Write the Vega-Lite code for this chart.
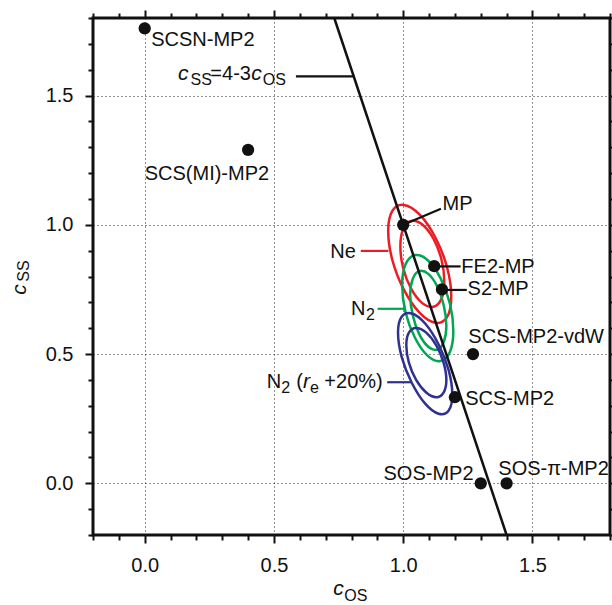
{
  "$schema": "https://vega.github.io/schema/vega-lite/v6.json",
  "width": 517,
  "height": 517,
  "autosize": {"type": "none"},
  "padding": {"left": 93, "top": 18, "right": 2, "bottom": 70},
  "background": "white",
  "config": {
    "font": "Liberation Sans",
    "view": {"stroke": "#111111", "strokeWidth": 3},
    "text": {"font": "Liberation Sans", "color": "#111111"}
  },
  "datasets": {
    "ell": [
      {"s": "Ne", "r": "o", "k": 0, "x": 1.186, "y": 0.722},
      {"s": "Ne", "r": "o", "k": 1, "x": 1.170, "y": 0.644},
      {"s": "Ne", "r": "o", "k": 2, "x": 1.125, "y": 0.621},
      {"s": "Ne", "r": "o", "k": 3, "x": 1.064, "y": 0.659},
      {"s": "Ne", "r": "o", "k": 4, "x": 1.003, "y": 0.748},
      {"s": "Ne", "r": "o", "k": 5, "x": 0.958, "y": 0.864},
      {"s": "Ne", "r": "o", "k": 6, "x": 0.942, "y": 0.976},
      {"s": "Ne", "r": "o", "k": 7, "x": 0.958, "y": 1.054},
      {"s": "Ne", "r": "o", "k": 8, "x": 1.003, "y": 1.077},
      {"s": "Ne", "r": "o", "k": 9, "x": 1.064, "y": 1.039},
      {"s": "Ne", "r": "o", "k": 10, "x": 1.125, "y": 0.950},
      {"s": "Ne", "r": "o", "k": 11, "x": 1.170, "y": 0.834},
      {"s": "Ne", "r": "i", "k": 0, "x": 1.159, "y": 0.781},
      {"s": "Ne", "r": "i", "k": 1, "x": 1.148, "y": 0.714},
      {"s": "Ne", "r": "i", "k": 2, "x": 1.117, "y": 0.683},
      {"s": "Ne", "r": "i", "k": 3, "x": 1.074, "y": 0.697},
      {"s": "Ne", "r": "i", "k": 4, "x": 1.031, "y": 0.752},
      {"s": "Ne", "r": "i", "k": 5, "x": 1.000, "y": 0.832},
      {"s": "Ne", "r": "i", "k": 6, "x": 0.989, "y": 0.917},
      {"s": "Ne", "r": "i", "k": 7, "x": 1.000, "y": 0.984},
      {"s": "Ne", "r": "i", "k": 8, "x": 1.031, "y": 1.015},
      {"s": "Ne", "r": "i", "k": 9, "x": 1.074, "y": 1.001},
      {"s": "Ne", "r": "i", "k": 10, "x": 1.117, "y": 0.946},
      {"s": "Ne", "r": "i", "k": 11, "x": 1.148, "y": 0.866},
      {"s": "N2", "r": "o", "k": 0, "x": 1.194, "y": 0.589},
      {"s": "N2", "r": "o", "k": 1, "x": 1.181, "y": 0.509},
      {"s": "N2", "r": "o", "k": 2, "x": 1.144, "y": 0.473},
      {"s": "N2", "r": "o", "k": 3, "x": 1.095, "y": 0.493},
      {"s": "N2", "r": "o", "k": 4, "x": 1.046, "y": 0.562},
      {"s": "N2", "r": "o", "k": 5, "x": 1.009, "y": 0.662},
      {"s": "N2", "r": "o", "k": 6, "x": 0.996, "y": 0.767},
      {"s": "N2", "r": "o", "k": 7, "x": 1.009, "y": 0.847},
      {"s": "N2", "r": "o", "k": 8, "x": 1.046, "y": 0.883},
      {"s": "N2", "r": "o", "k": 9, "x": 1.095, "y": 0.863},
      {"s": "N2", "r": "o", "k": 10, "x": 1.144, "y": 0.794},
      {"s": "N2", "r": "o", "k": 11, "x": 1.181, "y": 0.694},
      {"s": "N2", "r": "i", "k": 0, "x": 1.167, "y": 0.609},
      {"s": "N2", "r": "i", "k": 1, "x": 1.157, "y": 0.547},
      {"s": "N2", "r": "i", "k": 2, "x": 1.132, "y": 0.517},
      {"s": "N2", "r": "i", "k": 3, "x": 1.097, "y": 0.528},
      {"s": "N2", "r": "i", "k": 4, "x": 1.062, "y": 0.577},
      {"s": "N2", "r": "i", "k": 5, "x": 1.037, "y": 0.650},
      {"s": "N2", "r": "i", "k": 6, "x": 1.027, "y": 0.729},
      {"s": "N2", "r": "i", "k": 7, "x": 1.037, "y": 0.791},
      {"s": "N2", "r": "i", "k": 8, "x": 1.062, "y": 0.821},
      {"s": "N2", "r": "i", "k": 9, "x": 1.097, "y": 0.810},
      {"s": "N2", "r": "i", "k": 10, "x": 1.132, "y": 0.761},
      {"s": "N2", "r": "i", "k": 11, "x": 1.157, "y": 0.688},
      {"s": "N2r", "r": "o", "k": 0, "x": 1.190, "y": 0.343},
      {"s": "N2r", "r": "o", "k": 1, "x": 1.176, "y": 0.282},
      {"s": "N2r", "r": "o", "k": 2, "x": 1.137, "y": 0.269},
      {"s": "N2r", "r": "o", "k": 3, "x": 1.085, "y": 0.308},
      {"s": "N2r", "r": "o", "k": 4, "x": 1.033, "y": 0.389},
      {"s": "N2r", "r": "o", "k": 5, "x": 0.994, "y": 0.489},
      {"s": "N2r", "r": "o", "k": 6, "x": 0.980, "y": 0.583},
      {"s": "N2r", "r": "o", "k": 7, "x": 0.994, "y": 0.644},
      {"s": "N2r", "r": "o", "k": 8, "x": 1.033, "y": 0.657},
      {"s": "N2r", "r": "o", "k": 9, "x": 1.085, "y": 0.618},
      {"s": "N2r", "r": "o", "k": 10, "x": 1.137, "y": 0.537},
      {"s": "N2r", "r": "o", "k": 11, "x": 1.176, "y": 0.437},
      {"s": "N2r", "r": "i", "k": 0, "x": 1.167, "y": 0.400},
      {"s": "N2r", "r": "i", "k": 1, "x": 1.156, "y": 0.351},
      {"s": "N2r", "r": "i", "k": 2, "x": 1.128, "y": 0.333},
      {"s": "N2r", "r": "i", "k": 3, "x": 1.089, "y": 0.351},
      {"s": "N2r", "r": "i", "k": 4, "x": 1.050, "y": 0.400},
      {"s": "N2r", "r": "i", "k": 5, "x": 1.022, "y": 0.467},
      {"s": "N2r", "r": "i", "k": 6, "x": 1.012, "y": 0.534},
      {"s": "N2r", "r": "i", "k": 7, "x": 1.022, "y": 0.583},
      {"s": "N2r", "r": "i", "k": 8, "x": 1.050, "y": 0.601},
      {"s": "N2r", "r": "i", "k": 9, "x": 1.089, "y": 0.583},
      {"s": "N2r", "r": "i", "k": 10, "x": 1.128, "y": 0.534},
      {"s": "N2r", "r": "i", "k": 11, "x": 1.156, "y": 0.467}
    ],
    "fit": [
      {"x": 0.7333, "y": 1.8},
      {"x": 1.4, "y": -0.2}
    ],
    "leaders": [
      {"s": "k", "x": 0.585, "x2": 0.809, "y": 1.574, "y2": 1.574},
      {"s": "k", "x": 1.0, "x2": 1.146, "y": 1.0, "y2": 1.062},
      {"s": "k", "x": 1.12, "x2": 1.222, "y": 0.839, "y2": 0.839},
      {"s": "k", "x": 1.148, "x2": 1.246, "y": 0.748, "y2": 0.748},
      {"s": "Ne", "x": 0.836, "x2": 0.943, "y": 0.899, "y2": 0.899},
      {"s": "N2", "x": 0.901, "x2": 1.006, "y": 0.675, "y2": 0.675},
      {"s": "N2r", "x": 0.938, "x2": 1.032, "y": 0.391, "y2": 0.391}
    ],
    "points": [
      {"method": "SCSN-MP2", "cos": 0.0, "css": 1.76},
      {"method": "SCS(MI)-MP2", "cos": 0.40, "css": 1.29},
      {"method": "MP", "cos": 1.0, "css": 1.0},
      {"method": "FE2-MP", "cos": 1.12, "css": 0.84},
      {"method": "S2-MP", "cos": 1.15, "css": 0.75},
      {"method": "SCS-MP2-vdW", "cos": 1.27, "css": 0.50},
      {"method": "SCS-MP2", "cos": 1.2, "css": 0.333},
      {"method": "SOS-MP2", "cos": 1.3, "css": 0.0},
      {"method": "SOS-π-MP2", "cos": 1.4, "css": 0.0}
    ],
    "labLeft": [
      {"t": "SCSN-MP2", "x": 0.025, "y": 1.690},
      {"t": "SCS(MI)-MP2", "x": 0.0, "y": 1.174},
      {"t": "MP", "x": 1.152, "y": 1.058},
      {"t": "FE2-MP", "x": 1.225, "y": 0.815},
      {"t": "S2-MP", "x": 1.249, "y": 0.729},
      {"t": "SCS-MP2-vdW", "x": 1.252, "y": 0.542},
      {"t": "SCS-MP2", "x": 1.240, "y": 0.303},
      {"t": "SOS-π-MP2", "x": 1.368, "y": 0.032},
      {"t": "N", "x": 0.798, "y": 0.652},
      {"t": "N", "x": 0.472, "y": 0.368},
      {"t": "(", "x": 0.586, "y": 0.368},
      {"t": "+20%)", "x": 0.695, "y": 0.368},
      {"t": "=4-3", "x": 0.254, "y": 1.561}
    ],
    "labRight": [
      {"t": "Ne", "x": 0.817, "y": 0.871},
      {"t": "SOS-MP2", "x": 1.272, "y": 0.013}
    ],
    "labItalic": [
      {"t": "c", "x": 0.129, "y": 1.561},
      {"t": "c", "x": 0.412, "y": 1.561},
      {"t": "r", "x": 0.612, "y": 0.368},
      {"t": "c", "x": 0.729, "y": -0.432}
    ],
    "labSub": [
      {"t": "SS", "x": 0.177, "y": 1.542},
      {"t": "OS", "x": 0.457, "y": 1.542},
      {"t": "2", "x": 0.856, "y": 0.632},
      {"t": "2", "x": 0.528, "y": 0.348},
      {"t": "e", "x": 0.639, "y": 0.348},
      {"t": "OS", "x": 0.772, "y": -0.454}
    ],
    "yTitleMain": [{"t": "c", "x": -0.461, "y": 0.729}],
    "yTitleSub": [{"t": "SS", "x": -0.446, "y": 0.780}]
  },
  "layer": [
    {
      "data": {"name": "points"},
      "mark": {"type": "point", "opacity": 0},
      "encoding": {
        "x": {
          "field": "cos", "type": "quantitative",
          "scale": {"domain": [-0.2, 1.8], "nice": false, "zero": false},
          "axis": {
            "orient": "bottom", "title": null, "domain": false,
            "values": [-0.2, -0.1, 0, 0.1, 0.2, 0.3, 0.4, 0.5, 0.6, 0.7, 0.8, 0.9, 1.0, 1.1, 1.2, 1.3, 1.4, 1.5, 1.6, 1.7, 1.8],
            "labelExpr": "abs(datum.value*2 - round(datum.value*2)) < 0.001 ? format(datum.value, '.1f') : ''",
            "labelFontSize": 20, "labelColor": "#111111", "labelPadding": 12,
            "labelOverlap": false, "labelFlush": false,
            "tickColor": "#111111", "tickWidth": 2,
            "tickSize": {"condition": {"test": "abs(datum.value*2 - round(datum.value*2)) < 0.001", "value": 8}, "value": 5},
            "grid": true, "gridColor": "#222222", "gridDash": [1, 3], "gridWidth": 1,
            "gridOpacity": {"condition": {"test": "abs(datum.value*2 - round(datum.value*2)) < 0.001 && datum.value > -0.15 && datum.value < 1.75", "value": 1}, "value": 0}
          }
        },
        "y": {
          "field": "css", "type": "quantitative",
          "scale": {"domain": [-0.2, 1.8], "nice": false, "zero": false},
          "axis": {
            "orient": "left", "title": null, "domain": false,
            "values": [-0.2, -0.1, 0, 0.1, 0.2, 0.3, 0.4, 0.5, 0.6, 0.7, 0.8, 0.9, 1.0, 1.1, 1.2, 1.3, 1.4, 1.5, 1.6, 1.7, 1.8],
            "labelExpr": "abs(datum.value*2 - round(datum.value*2)) < 0.001 ? format(datum.value, '.1f') : ''",
            "labelFontSize": 20, "labelColor": "#111111", "labelPadding": 12,
            "labelOverlap": false, "labelFlush": false,
            "tickColor": "#111111", "tickWidth": 2,
            "tickSize": {"condition": {"test": "abs(datum.value*2 - round(datum.value*2)) < 0.001", "value": 8}, "value": 5},
            "grid": true, "gridColor": "#222222", "gridDash": [1, 3], "gridWidth": 1,
            "gridOpacity": {"condition": {"test": "abs(datum.value*2 - round(datum.value*2)) < 0.001 && datum.value > -0.15 && datum.value < 1.75", "value": 1}, "value": 0}
          }
        }
      }
    },
    {
      "data": {"name": "ell"},
      "mark": {"type": "line", "interpolate": "cardinal-closed", "strokeWidth": 2.5},
      "encoding": {
        "x": {"field": "x", "type": "quantitative", "scale": {"domain": [-0.2, 1.8], "nice": false, "zero": false}, "axis": null},
        "y": {"field": "y", "type": "quantitative", "scale": {"domain": [-0.2, 1.8], "nice": false, "zero": false}, "axis": null},
        "order": {"field": "k", "type": "quantitative"},
        "detail": [{"field": "s"}, {"field": "r"}],
        "color": {"field": "s", "type": "nominal", "legend": null,
          "scale": {"domain": ["Ne", "N2", "N2r", "k"], "range": ["#ed1c24", "#00a651", "#2e3192", "#111111"]}}
      }
    },
    {
      "data": {"name": "fit"},
      "mark": {"type": "line", "color": "#111111", "strokeWidth": 2.5},
      "encoding": {
        "x": {
          "field": "x", "type": "quantitative",
          "scale": {"domain": [-0.2, 1.8], "nice": false, "zero": false},
          "axis": {
            "orient": "top", "title": null, "domain": false, "labels": false, "grid": false,
            "values": [-0.2, -0.1, 0, 0.1, 0.2, 0.3, 0.4, 0.5, 0.6, 0.7, 0.8, 0.9, 1.0, 1.1, 1.2, 1.3, 1.4, 1.5, 1.6, 1.7, 1.8],
            "tickColor": "#111111", "tickWidth": 2,
            "tickSize": {"condition": {"test": "abs(datum.value*2 - round(datum.value*2)) < 0.001", "value": 8}, "value": 5}
          }
        },
        "y": {
          "field": "y", "type": "quantitative",
          "scale": {"domain": [-0.2, 1.8], "nice": false, "zero": false},
          "axis": {
            "orient": "right", "title": null, "domain": false, "labels": false, "grid": false,
            "values": [-0.2, -0.1, 0, 0.1, 0.2, 0.3, 0.4, 0.5, 0.6, 0.7, 0.8, 0.9, 1.0, 1.1, 1.2, 1.3, 1.4, 1.5, 1.6, 1.7, 1.8],
            "tickColor": "#111111", "tickWidth": 2,
            "tickSize": {"condition": {"test": "abs(datum.value*2 - round(datum.value*2)) < 0.001", "value": 8}, "value": 5}
          }
        }
      }
    },
    {
      "data": {"name": "leaders"},
      "mark": {"type": "rule", "strokeWidth": 2.2},
      "encoding": {
        "x": {"field": "x", "type": "quantitative", "scale": {"domain": [-0.2, 1.8], "nice": false, "zero": false}, "axis": null},
        "x2": {"field": "x2"},
        "y": {"field": "y", "type": "quantitative", "scale": {"domain": [-0.2, 1.8], "nice": false, "zero": false}, "axis": null},
        "y2": {"field": "y2"},
        "color": {"field": "s", "type": "nominal", "legend": null,
          "scale": {"domain": ["Ne", "N2", "N2r", "k"], "range": ["#ed1c24", "#00a651", "#2e3192", "#111111"]}}
      }
    },
    {
      "data": {"name": "points"},
      "mark": {"type": "circle", "size": 150, "color": "#111111", "opacity": 1},
      "encoding": {
        "x": {"field": "cos", "type": "quantitative", "scale": {"domain": [-0.2, 1.8], "nice": false, "zero": false}, "axis": null},
        "y": {"field": "css", "type": "quantitative", "scale": {"domain": [-0.2, 1.8], "nice": false, "zero": false}, "axis": null}
      }
    },
    {
      "data": {"name": "labLeft"},
      "mark": {"type": "text", "align": "left", "baseline": "alphabetic", "fontSize": 20, "color": "#111111"},
      "encoding": {
        "x": {"field": "x", "type": "quantitative", "scale": {"domain": [-0.2, 1.8], "nice": false, "zero": false}, "axis": null},
        "y": {"field": "y", "type": "quantitative", "scale": {"domain": [-0.2, 1.8], "nice": false, "zero": false}, "axis": null},
        "text": {"field": "t"}
      }
    },
    {
      "data": {"name": "labRight"},
      "mark": {"type": "text", "align": "right", "baseline": "alphabetic", "fontSize": 20, "color": "#111111"},
      "encoding": {
        "x": {"field": "x", "type": "quantitative", "scale": {"domain": [-0.2, 1.8], "nice": false, "zero": false}, "axis": null},
        "y": {"field": "y", "type": "quantitative", "scale": {"domain": [-0.2, 1.8], "nice": false, "zero": false}, "axis": null},
        "text": {"field": "t"}
      }
    },
    {
      "data": {"name": "labItalic"},
      "mark": {"type": "text", "align": "left", "baseline": "alphabetic", "fontSize": 21, "fontStyle": "italic", "color": "#111111"},
      "encoding": {
        "x": {"field": "x", "type": "quantitative", "scale": {"domain": [-0.2, 1.8], "nice": false, "zero": false}, "axis": null},
        "y": {"field": "y", "type": "quantitative", "scale": {"domain": [-0.2, 1.8], "nice": false, "zero": false}, "axis": null},
        "text": {"field": "t"}
      }
    },
    {
      "data": {"name": "labSub"},
      "mark": {"type": "text", "align": "left", "baseline": "alphabetic", "fontSize": 16, "color": "#111111"},
      "encoding": {
        "x": {"field": "x", "type": "quantitative", "scale": {"domain": [-0.2, 1.8], "nice": false, "zero": false}, "axis": null},
        "y": {"field": "y", "type": "quantitative", "scale": {"domain": [-0.2, 1.8], "nice": false, "zero": false}, "axis": null},
        "text": {"field": "t"}
      }
    },
    {
      "data": {"name": "yTitleMain"},
      "mark": {"type": "text", "align": "left", "baseline": "alphabetic", "fontSize": 21, "fontStyle": "italic", "angle": 270, "color": "#111111"},
      "encoding": {
        "x": {"field": "x", "type": "quantitative", "scale": {"domain": [-0.2, 1.8], "nice": false, "zero": false}, "axis": null},
        "y": {"field": "y", "type": "quantitative", "scale": {"domain": [-0.2, 1.8], "nice": false, "zero": false}, "axis": null},
        "text": {"field": "t"}
      }
    },
    {
      "data": {"name": "yTitleSub"},
      "mark": {"type": "text", "align": "left", "baseline": "alphabetic", "fontSize": 16, "angle": 270, "color": "#111111"},
      "encoding": {
        "x": {"field": "x", "type": "quantitative", "scale": {"domain": [-0.2, 1.8], "nice": false, "zero": false}, "axis": null},
        "y": {"field": "y", "type": "quantitative", "scale": {"domain": [-0.2, 1.8], "nice": false, "zero": false}, "axis": null},
        "text": {"field": "t"}
      }
    }
  ],
  "resolve": {"axis": {"x": "independent", "y": "independent"}}
}
